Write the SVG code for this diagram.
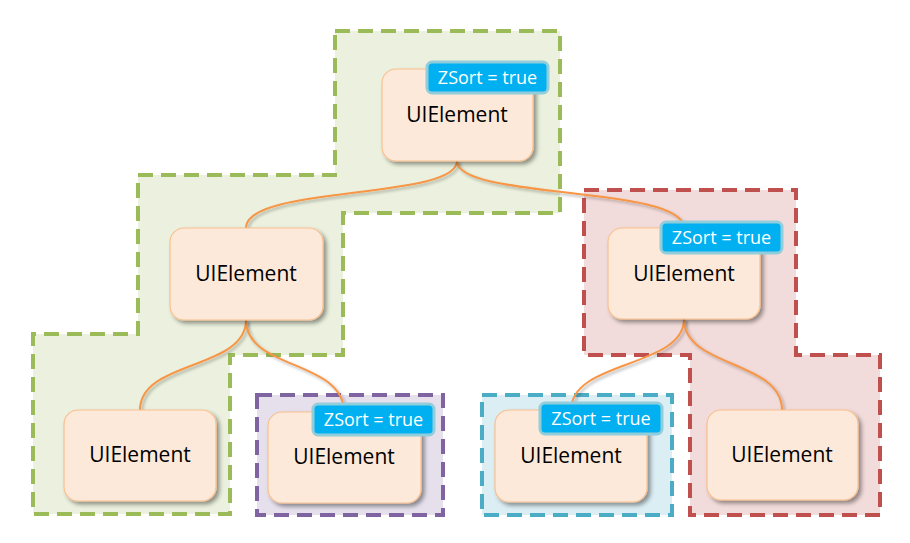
<svg xmlns="http://www.w3.org/2000/svg" width="910" height="543" viewBox="0 0 910 543">
<defs>
<filter id="sh" x="-20%" y="-20%" width="150%" height="150%">
<feDropShadow dx="3" dy="3" stdDeviation="2" flood-color="#000" flood-opacity="0.4"/>
</filter>
<filter id="lsh" x="-20%" y="-20%" width="150%" height="150%">
<feDropShadow dx="2" dy="2" stdDeviation="1.5" flood-color="#000" flood-opacity="0.3"/>
</filter>
<style>
.reg{stroke-width:4;stroke-dasharray:15 8;stroke-linejoin:miter}
.green{fill:#ebf1de;stroke:#9bbb59}
.red{fill:#f2dcdb;stroke:#c0504d}
.purple{fill:#e5e0ec;stroke:#8064a2}
.blue{fill:#dbeef4;stroke:#4bacc6}
.node rect.box{fill:#fde9d9;stroke:#fac08f;stroke-width:1.2;filter:url(#sh)}
.node text.lbl{font-family:"Open Sans","Liberation Sans",sans-serif;font-size:21px;fill:#000;text-anchor:middle}
.badge rect{fill:#00b0f0;stroke:#92cddc;stroke-width:3}
.badge text{font-family:"Open Sans","Liberation Sans",sans-serif;font-size:18px;fill:#fff;text-anchor:middle}
.conn path{fill:none;stroke:#f79646;stroke-width:2;filter:url(#lsh)}
</style>
</defs>
<rect width="910" height="543" fill="#fff"/>
<g id="regions">
<path id="region-green" class="reg green" d="M335,31 H560 V213 H343 V355 H230 V514 H33 V334 H138 V175 H335 Z"/>
<path id="region-red" class="reg red" d="M584,190 H796 V355 H880 V515 H690 V355 H584 Z"/>
<rect id="region-purple" class="reg purple" x="257" y="395" width="186" height="120"/>
<rect id="region-blue" class="reg blue" x="482" y="395" width="190" height="120"/>
</g>
<g id="connectors" class="conn">
<path d="M457,161 C457,200 246,185 246,228"/>
<path d="M457,161 C457,200 684,185 684,228"/>
<path d="M246,320 C246,370 140,360 140,410"/>
<path d="M246,320 C246,370 344,360 344,412"/>
<path d="M684,319 C684,368 571,360 571,410"/>
<path d="M684,319 C684,368 782,360 782,410"/>
</g>
<g id="n1" class="node">
<rect class="box" x="382" y="69" width="151" height="92" rx="14"/>
<text class="lbl" x="457" y="122">UIElement</text>
<g class="badge"><rect x="427" y="62" width="121" height="31" rx="5"/><text x="487.5" y="84">ZSort = true</text></g>
</g>
<g id="n2" class="node">
<rect class="box" x="170" y="228" width="153" height="92" rx="14"/>
<text class="lbl" x="246" y="281">UIElement</text>
</g>
<g id="n3" class="node">
<rect class="box" x="608" y="228" width="152" height="91" rx="14"/>
<text class="lbl" x="684" y="281">UIElement</text>
<g class="badge"><rect x="661" y="222" width="121" height="31" rx="5"/><text x="721.5" y="244">ZSort = true</text></g>
</g>
<g id="n4" class="node">
<rect class="box" x="64" y="410" width="152" height="91" rx="14"/>
<text class="lbl" x="140" y="462">UIElement</text>
</g>
<g id="n5" class="node">
<rect class="box" x="268" y="412" width="153" height="91" rx="14"/>
<text class="lbl" x="344" y="464">UIElement</text>
<g class="badge"><rect x="313" y="404" width="121" height="31" rx="5"/><text x="373.5" y="426">ZSort = true</text></g>
</g>
<g id="n6" class="node">
<rect class="box" x="495" y="410" width="152" height="92" rx="14"/>
<text class="lbl" x="571" y="463">UIElement</text>
<g class="badge"><rect x="540" y="403" width="122" height="31" rx="5"/><text x="601" y="425">ZSort = true</text></g>
</g>
<g id="n7" class="node">
<rect class="box" x="707" y="410" width="151" height="90" rx="14"/>
<text class="lbl" x="782" y="462">UIElement</text>
</g>
</svg>
